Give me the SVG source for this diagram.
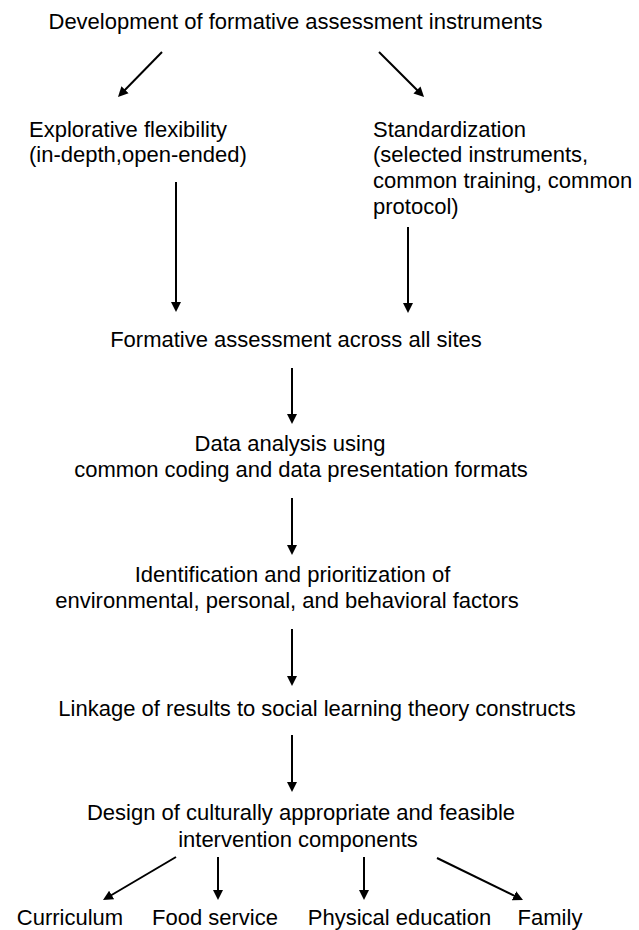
<svg xmlns="http://www.w3.org/2000/svg" width="639" height="930" viewBox="0 0 639 930">
<style>
  text { font-family: "Liberation Sans", Arial, Helvetica, sans-serif; font-size: 22px; fill: #000; }
  .c { text-anchor: middle; }
  .conn line { stroke: #000; stroke-width: 2; fill: none; marker-end: url(#ah); }
</style>
<defs>
  <marker id="ah" markerUnits="userSpaceOnUse" markerWidth="10" markerHeight="11" refX="4" refY="5" orient="auto" viewBox="0 0 10 10">
    <path d="M0,0 L10,5 L0,10 z" fill="#000"/>
  </marker>
</defs>
<rect width="639" height="930" fill="#fff"/>

<g id="n-development"><text class="c" x="295.5" y="29">Development of formative assessment instruments</text></g>
<g id="n-explorative">
  <text x="29" y="137">Explorative flexibility</text>
  <text x="29" y="162">(in-depth,open-ended)</text>
</g>
<g id="n-standardization">
  <text x="373" y="137">Standardization</text>
  <text x="373" y="162">(selected instruments,</text>
  <text x="373" y="188">common training, common</text>
  <text x="373" y="214">protocol)</text>
</g>
<g id="n-formative"><text class="c" x="296" y="347">Formative assessment across all sites</text></g>
<g id="n-data">
  <text class="c" x="290" y="451">Data analysis using</text>
  <text class="c" x="301" y="477">common coding and data presentation formats</text>
</g>
<g id="n-identification">
  <text class="c" x="292.5" y="582">Identification and prioritization of</text>
  <text class="c" x="287" y="608">environmental, personal, and behavioral factors</text>
</g>
<g id="n-linkage"><text class="c" x="317" y="716">Linkage of results to social learning theory constructs</text></g>
<g id="n-design">
  <text class="c" x="301" y="820">Design of culturally appropriate and feasible</text>
  <text class="c" x="298" y="847">intervention components</text>
</g>
<g id="n-curriculum"><text class="c" x="70" y="925">Curriculum</text></g>
<g id="n-food"><text class="c" x="215" y="925">Food service</text></g>
<g id="n-pe"><text class="c" x="399.5" y="925">Physical education</text></g>
<g id="n-family"><text class="c" x="550" y="925">Family</text></g>

<g id="connectors" class="conn">
  <line x1="162" y1="52" x2="122.2" y2="92.7"/>
  <line x1="379" y1="52" x2="419.8" y2="92.8"/>
  <line x1="176" y1="182" x2="176" y2="306"/>
  <line x1="408" y1="227" x2="408" y2="307"/>
  <line x1="292" y1="368" x2="292" y2="418"/>
  <line x1="292" y1="498" x2="292" y2="549"/>
  <line x1="292" y1="629" x2="292" y2="680"/>
  <line x1="292" y1="735" x2="292" y2="786"/>
  <line x1="176" y1="857" x2="108.2" y2="897"/>
  <line x1="218" y1="857" x2="218" y2="894"/>
  <line x1="364" y1="857" x2="364" y2="894"/>
  <line x1="437" y1="858" x2="517.6" y2="897.4"/>
</g>
</svg>
